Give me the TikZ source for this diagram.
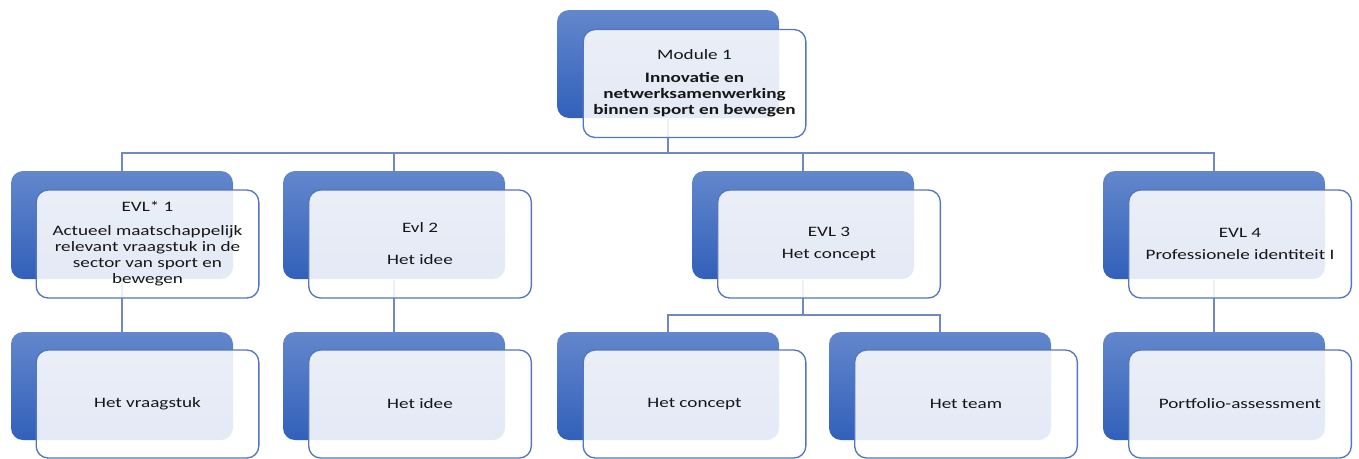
\documentclass[tikz,border=0pt]{standalone}
\usepackage{fontspec}
\setmainfont{Carlito}[FakeStretch=1.33]
\definecolor{evlTop}{RGB}{98,135,204}
\definecolor{evlBottom}{RGB}{50,96,186}
\definecolor{evlBorder}{RGB}{84,118,190}
\definecolor{evlLink}{RGB}{112,137,190}
\definecolor{evlText}{RGB}{22,22,22}
\tikzset{every picture/.style={line width=0.75pt}}
\tikzset{
  backbox/.style={rectangle, rounded corners=9pt, minimum width=166.5pt, minimum height=81pt, inner sep=0pt, top color=evlTop, bottom color=evlBottom, draw=none},
  frontbox/.style={rectangle, rounded corners=9pt, minimum width=167pt, minimum height=81pt, inner sep=0pt, draw=evlBorder, line width=1pt, fill=white, fill opacity=0.87, text opacity=1, draw opacity=1, align=center, text=evlText, font=\fontsize{10.8}{12}\selectfont},
  link/.style={draw=evlLink, line width=1.2pt}
}
\begin{document}
\begin{tikzpicture}[x=0.75pt,y=0.75pt,yscale=-1,xscale=1]
\useasboundingbox (0,0) rectangle (1359,458);

%Back shapes
\node[backbox] (modBack) at (668,64) {};
\node[backbox] (evl1Back) at (122,225) {};
\node[backbox] (evl2Back) at (394,225) {};
\node[backbox] (evl3Back) at (803,225) {};
\node[backbox] (evl4Back) at (1214,225) {};
\node[backbox] (sub1Back) at (122,386) {};
\node[backbox] (sub2Back) at (394,386) {};
\node[backbox] (sub3Back) at (668,386) {};
\node[backbox] (sub4Back) at (940,386) {};
\node[backbox] (sub5Back) at (1214,386) {};

%Connector lines
\coordinate (busTop) at (668,153);
\coordinate (busEvl3) at (803,315);
\draw[link] (modBack.south) -- (busTop);
\foreach \n in {evl1Back,evl2Back,evl3Back,evl4Back}
  \draw[link] (busTop) -| (\n.north);
\draw[link] (evl1Back.south) -- (sub1Back.north);
\draw[link] (evl2Back.south) -- (sub2Back.north);
\draw[link] (evl3Back.south) -- (busEvl3);
\draw[link] (busEvl3) -| (sub3Back.north);
\draw[link] (busEvl3) -| (sub4Back.north);
\draw[link] (evl4Back.south) -- (sub5Back.north);

%Front shapes with text
\node[frontbox] (mod) at (694.5,83.5) {Module 1\\[5.5pt]\textbf{Innovatie en}\\\textbf{netwerksamenwerking}\\\textbf{binnen sport en bewegen}};
\node[frontbox] (evl1) at (147.5,244) {EVL* 1\\[6pt]Actueel maatschappelijk\\relevant vraagstuk in de\\sector van sport en\\bewegen};
\node[frontbox] (evl2) at (420,244) {Evl 2\\[12pt]Het idee};
\node[frontbox] (evl3) at (829,244) {EVL 3\\[4.5pt]Het concept};
\node[frontbox] (evl4) at (1240,244) {EVL 4\\[4.5pt]Professionele identiteit I};
\node[frontbox] (sub1) at (147.5,404) {Het vraagstuk};
\node[frontbox] (sub2) at (420,404) {Het idee};
\node[frontbox] (sub3) at (694.5,404) {Het concept};
\node[frontbox] (sub4) at (966,404) {Het team};
\node[frontbox] (sub5) at (1240,404) {Portfolio-assessment};
\end{tikzpicture}
\end{document}
